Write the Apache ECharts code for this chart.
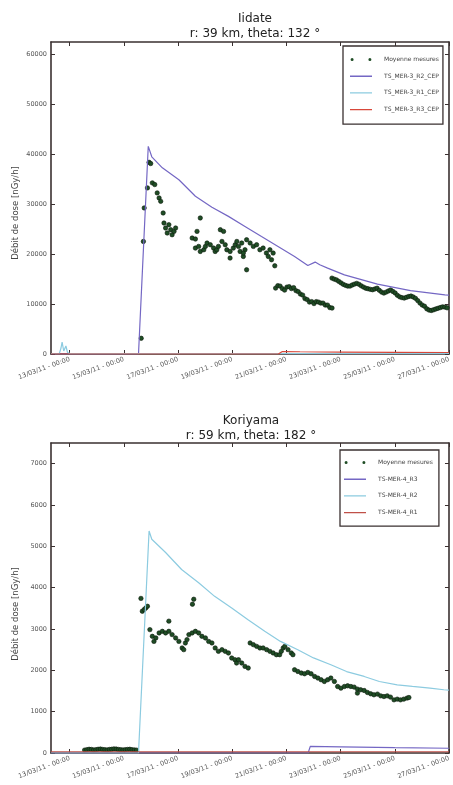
<!DOCTYPE html>
<html><head><meta charset="utf-8">
<script src="https://cdn.jsdelivr.net/npm/echarts@6/dist/echarts.min.js"></script>
<style>html,body{margin:0;padding:0;background:#fff}#c{width:453px;height:785px}</style>
</head><body><div id="c"></div>
<script>
// ---------- axis ticks (x = day of March 2011, decimal) ----------
const xTickDays = [13, 15, 17, 19, 21, 23, 25, 27];
const xTickLabels = ['13/03/11 - 00:00','15/03/11 - 00:00','17/03/11 - 00:00','19/03/11 - 00:00','21/03/11 - 00:00','23/03/11 - 00:00','25/03/11 - 00:00','27/03/11 - 00:00'];
const yTicksIidate = [0, 10000, 20000, 30000, 40000, 50000, 60000];
const yTicksKoriyama = [0, 1000, 2000, 3000, 4000, 5000, 6000, 7000];

// ---------- Iidate ----------
const iidR2Days = [12.31, 15.54, 15.90, 16.03, 16.42, 17.03, 17.64, 18.25, 18.86, 19.47, 20.08, 20.69, 21.30, 21.79, 22.06, 22.13, 22.23, 22.52, 23.14, 24.36, 25.58, 26.85, 27.0];
const iidR2Vals = [0, 0, 41600, 39500, 37300, 34900, 31600, 29400, 27570, 25560, 23550, 21550, 19540, 17730, 18410, 18670, 17870, 17210, 15860, 14000, 12710, 11850, 11800];
const iidR1Days = [12.31, 12.62, 12.68, 12.72, 12.78, 12.82, 12.86, 12.92, 13.0, 20.0, 27.0];
const iidR1Vals = [100, 150, 1200, 2400, 600, 500, 1600, 300, 120, 100, 100];
const iidR3Days = [12.31, 20.70, 20.85, 21.5, 23.0, 25.0, 27.0];
const iidR3Vals = [0, 0, 500, 450, 380, 330, 300];
const iidMesDays = [15.64, 15.72, 15.75, 15.87, 15.93, 15.99, 16.05, 16.14, 16.23, 16.30, 16.36, 16.45, 16.48, 16.54, 16.60, 16.66, 16.73, 16.78, 16.85, 16.91, 17.52, 17.64, 17.70, 17.82, 17.64, 17.76, 17.82, 17.95, 18.01, 18.07, 18.19, 18.31, 18.37, 18.43, 18.49, 18.56, 18.68, 18.62, 18.74, 18.80, 18.92, 18.92, 19.04, 19.11, 19.17, 19.23, 19.29, 19.35, 19.41, 19.47, 19.41, 19.53, 19.53, 19.66, 19.78, 19.90, 20.02, 20.14, 20.26, 20.33, 20.39, 20.45, 20.51, 20.57];
const iidMesVals = [3150, 22550, 29260, 33270, 38400, 38150, 34280, 33940, 32270, 31260, 30580, 28250, 26240, 25240, 24240, 25900, 24900, 23890, 24560, 25240, 23230, 23030, 24560, 27250, 21220, 21550, 20540, 20880, 21550, 22230, 21890, 21220, 20540, 20880, 21550, 24900, 24560, 22550, 21890, 20880, 20540, 19220, 21220, 21890, 22550, 21550, 20540, 22230, 19540, 20880, 20220, 16870, 22890, 22230, 21550, 21890, 20880, 21220, 20220, 19540, 20880, 18880, 20220, 17670];
// 2-hourly measurement bands
const iidBand1Start = 20.60;
const iidBand1Vals = [13200, 13700, 13600, 13100, 12800, 13400, 13500, 13100, 13300, 12700, 12500, 12000, 11800, 11100, 10900, 10400, 10500, 10100, 10500, 10400, 10200, 10200, 9800, 9800, 9300, 9200];
const iidBand2Start = 22.68;
const iidBand2Vals = [15200, 15000, 14850, 14550, 14250, 13950, 13750, 13600, 13600, 13830, 14000, 14150, 13950, 13650, 13400, 13180, 13070, 12950, 12870, 13030, 13180, 12750, 12400, 12200, 12400, 12630, 12830, 12530, 12220, 11750, 11450, 11300, 11200, 11360, 11510, 11610, 11420, 11150, 10700, 10200, 9800, 9570, 9050, 8800, 8720, 8850, 9020, 9160, 9300, 9450, 9400, 9250];

// ---------- Koriyama ----------
const korR3Days = [12.31, 21.80, 21.88, 23.0, 25.0, 27.0];
const korR3Vals = [0, 0, 160, 150, 130, 115];
const korR2Days = [12.31, 15.54, 15.93, 16.03, 16.54, 17.13, 17.76, 18.35, 18.98, 19.57, 20.20, 20.78, 21.42, 22.0, 22.64, 23.22, 23.87, 24.43, 25.09, 25.65, 26.30, 26.81, 27.0];
const korR2Vals = [0, 0, 5370, 5170, 4850, 4440, 4120, 3790, 3510, 3230, 2944, 2700, 2500, 2300, 2136, 1970, 1852, 1730, 1650, 1610, 1570, 1530, 1520];
const korR1Days = [12.31, 27.0];
const korR1Vals = [30, 30];
const korMesDays = [15.63, 15.68, 15.75, 15.81, 15.87, 16.66, 17.53, 17.58, 23.62,
  15.96, 16.05, 16.11, 16.18, 16.30, 16.42, 16.54, 16.66, 16.78, 16.91, 17.03, 17.15, 17.21, 17.27, 17.33, 17.40, 17.52, 17.64, 17.76, 17.88, 18.01, 18.13, 18.25, 18.37, 18.49, 18.62, 18.74, 18.86, 18.98, 19.10, 19.16, 19.23, 19.35, 19.47, 19.59,
  19.66, 19.78, 19.90, 20.02, 20.14, 20.27, 20.39, 20.51, 20.63, 20.75, 20.81, 20.88, 20.94, 21.06, 21.18, 21.24,
  21.30, 21.42, 21.55, 21.67, 21.79, 21.91, 22.04, 22.16, 22.28, 22.40, 22.52, 22.64, 22.77, 22.89, 23.01, 23.14, 23.26, 23.38, 23.50, 23.62, 23.74, 23.87, 23.99, 24.11, 24.23, 24.36, 24.48, 24.60, 24.72, 24.84, 24.97, 25.09, 25.21, 25.33, 25.45, 25.52];
const korMesVals = [3740, 3430, 3470, 3510, 3550, 3190, 3600, 3720, 1449,
  2985, 2823, 2700, 2784, 2905, 2944, 2905, 2944, 2864, 2784, 2700, 2541, 2500, 2662, 2743, 2864, 2905, 2944, 2905, 2823, 2784, 2700, 2662, 2541, 2459, 2500, 2459, 2420, 2298, 2257, 2177, 2257, 2177, 2095, 2056,
  2662, 2621, 2580, 2541, 2541, 2500, 2459, 2420, 2378, 2378, 2459, 2541, 2580, 2500, 2420, 2378,
  2014, 1973, 1934, 1917, 1949, 1917, 1852, 1813, 1772, 1731, 1772, 1813, 1731, 1609, 1569, 1609, 1626, 1609, 1594, 1546, 1529, 1512, 1464, 1432, 1408, 1425, 1383, 1366, 1383, 1352, 1286, 1303, 1286, 1303, 1328, 1342];
const korLowStart = 13.55;
const korLowVals = [70, 80, 90, 85, 75, 80, 90, 95, 85, 80, 75, 85, 90, 100, 95, 85, 80, 75, 80, 85, 90, 80, 75, 70];

// ---------- helpers ----------
const pairs = (days, vals) => days.map((d, i) => [d, vals[i]]);
const band = (start, vals) => vals.map((v, i) => [start + i / 12, v]);

const FONT = 'DejaVu Sans';
const FRAME = '#3a3030';
const PURPLE = '#7467c4', CYAN = '#8ccbe0', RED = '#d8473a', RED2 = '#c05048';
const DOT = '#1f4d25';
const xMin = 12.31, xMax = 27.0;

function xAx(grid, top) {
  return {
    type: 'value', gridIndex: grid, min: xMin, max: xMax, position: top ? 'top' : 'bottom',
    axisLine: { show: true, onZero: false, lineStyle: { color: FRAME, width: 1.6 } },
    axisTick: { show: true, inside: true, length: 4, customValues: xTickDays, lineStyle: { color: FRAME } },
    axisLabel: top ? { show: false } : {
      show: true, customValues: xTickDays, rotate: 20, margin: 5, fontSize: 6.5, fontFamily: FONT, color: '#555',
      formatter: v => { const i = xTickDays.indexOf(v); return i >= 0 ? xTickLabels[i] : ''; }
    },
    splitLine: { show: false }
  };
}
function yAx(grid, right, max, ticks) {
  return {
    type: 'value', gridIndex: grid, min: 0, max: max, position: right ? 'right' : 'left',
    axisLine: { show: true, onZero: false, lineStyle: { color: FRAME, width: 1.6 } },
    axisTick: { show: true, inside: true, length: 4, customValues: ticks, lineStyle: { color: FRAME } },
    axisLabel: right ? { show: false } : { show: true, customValues: ticks, margin: 4, fontSize: 6.5, fontFamily: FONT, color: '#555', formatter: v => String(v) },
    splitLine: { show: false }
  };
}
function lineS(name, xi, yi, data, color, z) {
  return { type: 'line', name, xAxisIndex: xi, yAxisIndex: yi, data, symbol: 'none', lineStyle: { color, width: 1.2 }, itemStyle: { color }, z, animation: false };
}
function dotS(xi, yi, data) {
  return { type: 'scatter', name: 'Moyenne mesures', xAxisIndex: xi, yAxisIndex: yi, data, symbolSize: 4.4,
    itemStyle: { color: DOT, borderColor: '#0b1a0b', borderWidth: 0.6, opacity: 1 }, z: 2, animation: false };
}
// legend icons: the invisible zero-area segments fix the 22x7 bounding box
const dotIcon = 'path://M0,0L0,7M22,0L22,7M0.6,3.5a1.5,1.5 0 1,0 3,0a1.5,1.5 0 1,0 -3,0M18.4,3.5a1.5,1.5 0 1,0 3,0a1.5,1.5 0 1,0 -3,0';
const lineIcon = 'path://M0,0L0,7M22,0L22,7M0,2.9h22v1.3h-22z';
function legend(names, colors, left, top, pad) {
  return {
    orient: 'vertical', left, top, padding: pad, itemWidth: 22, itemHeight: 7, itemGap: 9.7,
    borderColor: FRAME, borderWidth: 1.3, backgroundColor: '#fff', selectedMode: false,
    textStyle: { fontSize: 6, fontFamily: FONT, color: '#444', padding: [0, 0, 0, 7] },
    data: names.map((n, i) => ({ name: n, icon: i === 0 ? dotIcon : lineIcon, itemStyle: { color: colors[i], borderWidth: 0 } }))
  };
}

const chart = echarts.init(document.getElementById('c'), null, { renderer: 'canvas' });
chart.setOption({
  animation: false,
  backgroundColor: '#fff',
  textStyle: { fontFamily: FONT },
  grid: [
    { left: 51, top: 42, width: 401, height: 312 },
    { left: 51, top: 443, width: 401, height: 310 }
  ],
  xAxis: [xAx(0, false), xAx(0, true), xAx(1, false), xAx(1, true)],
  yAxis: [yAx(0, false, 62500, yTicksIidate), yAx(0, true, 62500, yTicksIidate), yAx(1, false, 7500, yTicksKoriyama), yAx(1, true, 7500, yTicksKoriyama)],
  legend: [
    legend(['Moyenne mesures', 'TS_MER-3_R2_CEP', 'TS_MER-3_R1_CEP', 'TS_MER-3_R3_CEP'], [DOT, PURPLE, CYAN, RED], 343, 46, [10, 4, 11, 7]),
    legend(['Moyenne mesures', 'TS-MER-4_R3', 'TS-MER-4_R2', 'TS-MER-4_R1'], [DOT, PURPLE, CYAN, RED2], 340, 450, [9, 6, 10, 4])
  ],
  graphic: [
    { type: 'text', style: { text: 'Iidate', font: '12px "DejaVu Sans"', fill: '#222', x: 255, y: 19, align: 'center', verticalAlign: 'middle' } },
    { type: 'text', style: { text: 'r: 39 km, theta: 132 °', font: '12px "DejaVu Sans"', fill: '#222', x: 255, y: 34, align: 'center', verticalAlign: 'middle' } },
    { type: 'text', style: { text: 'Koriyama', font: '12px "DejaVu Sans"', fill: '#222', x: 251, y: 421, align: 'center', verticalAlign: 'middle' } },
    { type: 'text', style: { text: 'r: 59 km, theta: 182 °', font: '12px "DejaVu Sans"', fill: '#222', x: 251, y: 436, align: 'center', verticalAlign: 'middle' } },
    { type: 'text', x: 16, y: 213, rotation: Math.PI / 2, style: { text: 'Débit de dose [nGy/h]', font: '8.5px "DejaVu Sans"', fill: '#444', align: 'center', verticalAlign: 'middle' } },
    { type: 'text', x: 16, y: 614, rotation: Math.PI / 2, style: { text: 'Débit de dose [nGy/h]', font: '8.5px "DejaVu Sans"', fill: '#444', align: 'center', verticalAlign: 'middle' } }
  ],
  series: [
    dotS(0, 0, pairs(iidMesDays, iidMesVals).concat(band(iidBand1Start, iidBand1Vals), band(iidBand2Start, iidBand2Vals))),
    lineS('TS_MER-3_R2_CEP', 0, 0, pairs(iidR2Days, iidR2Vals), PURPLE, 3),
    lineS('TS_MER-3_R1_CEP', 0, 0, pairs(iidR1Days, iidR1Vals), CYAN, 4),
    lineS('TS_MER-3_R3_CEP', 0, 0, pairs(iidR3Days, iidR3Vals), RED, 5),
    dotS(2, 2, pairs(korMesDays, korMesVals).concat(band(korLowStart, korLowVals))),
    lineS('TS-MER-4_R3', 2, 2, pairs(korR3Days, korR3Vals), PURPLE, 3),
    lineS('TS-MER-4_R2', 2, 2, pairs(korR2Days, korR2Vals), CYAN, 4),
    lineS('TS-MER-4_R1', 2, 2, pairs(korR1Days, korR1Vals), RED2, 5)
  ]
});
</script></body></html>
